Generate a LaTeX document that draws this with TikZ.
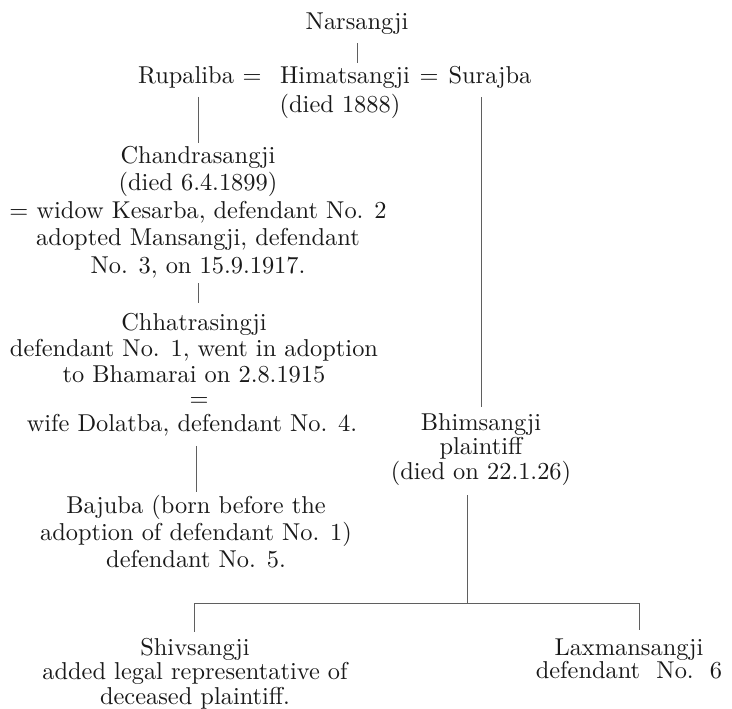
\documentclass[tikz,border=0pt]{standalone}
\usepackage{fontspec}
\setmainfont{lmroman10-regular}[Extension=.otf]
\usetikzlibrary{positioning}
\definecolor{ink}{RGB}{25,25,25}
\definecolor{rule}{RGB}{95,95,95}

\begin{document}
\begin{tikzpicture}[
        x=1pt, y=-1pt,
        person/.style={align=center, inner sep=0pt, text=ink, font=\fontsize{24.4}{27}\selectfont},
        tight/.style={font=\fontsize{24.4}{24.5}\selectfont},
        link/.style={draw=rule, line width=0.9pt}
    ]
        \useasboundingbox (0,0) rectangle (732,709);

        % first generation
        \node[person, anchor=base] (nars) at (357,30) {Narsangji};
        \node[person, anchor=base] (rupa) at (186,84) {Rupaliba};
        \node[person, anchor=base] (eq1) at (252,84) {=};
        \node[person, anchor=base] (himat) at (345,84) {Himatsangji};
        \node[person, anchor=base] (eq2) at (429,84) {=};
        \node[person, anchor=base] (suraj) at (490,84) {Surajba};
        \node[person, anchor=base] (died) at (340,113) {(died 1888)};

        % left branch
        \node[person, anchor=north, font=\fontsize{24.4}{27.5}\selectfont] (chandra) at (198,146) {Chandrasangji\\(died 6.4.1899)\\= widow Kesarba, defendant No. 2\\adopted Mansangji, defendant\\No. 3, on 15.9.1917.};
        \node[person, anchor=north, font=\fontsize{24.4}{26}\selectfont] (chhatra) at (194,313) {Chhatrasingji\\defendant No. 1, went in adoption\\to Bhamarai on 2.8.1915};
        \node[person, anchor=base] (eq3) at (199,406.5) {=};
        \node[person, anchor=base] (dolat) at (192,431) {wife Dolatba, defendant No. 4.};
        \node[person, anchor=north] (bajuba) at (196,495) {Bajuba (born before the\\adoption of defendant No. 1)\\defendant No. 5.};

        % right branch
        \node[person, tight, anchor=north] (bhim) at (481,413) {Bhimsangji\\plaintiff\\(died on 22.1.26)};
        \node[person, tight, anchor=north] (shiv) at (195,638) {Shivsangji\\added legal representative of\\deceased plaintiff.};
        \node[person, tight, anchor=north, font=\fontsize{24.4}{23}\selectfont] (laxman) at (629,639) {Laxmansangji\\defendant~~No.~~6};

        \coordinate (fork) at (467,603);
        \coordinate (barL) at (194,603);
        \coordinate (barR) at (639,603);

        \draw[link, shorten <=8pt, shorten >=4pt] (nars.south) -- (nars.south |- himat.north);
        \draw[link, shorten <=8pt, shorten >=3pt] (rupa.south -| chandra.north) -- (chandra.north);
        \draw[link, shorten <=8pt, shorten >=6pt] (suraj.south -| bhim.north) -- (bhim.north);
        \draw[link, shorten <=5pt, shorten >=10pt] (chandra.south) -- (chandra.south |- chhatra.north);
        \draw[link, shorten <=10pt, shorten >=3pt] (bajuba.north |- dolat.south) -- (bajuba.north);
        \draw[link, shorten <=10pt] (fork |- bhim.south) -- (fork);
        \draw[link] (barL) -- (barR);
        \draw[link, shorten >=6pt] (barL) -- (barL |- shiv.north);
        \draw[link, shorten >=9pt] (barR) -- (barR |- laxman.north);
    \end{tikzpicture}
\end{document}
